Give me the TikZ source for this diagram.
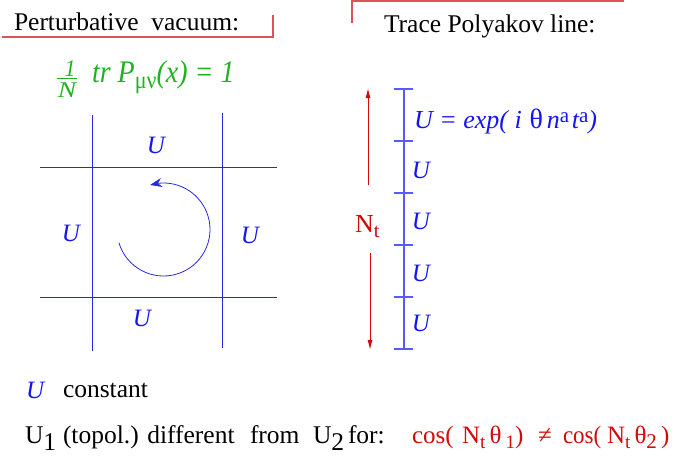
\documentclass[tikz,border=0pt]{standalone}
\usepackage{fontspec}
\setmainfont{Liberation Serif}
\usetikzlibrary{arrows.meta}
\definecolor{ublue}{RGB}{20,20,245}
\definecolor{gridblue}{RGB}{40,40,225}
\definecolor{lineblue}{RGB}{90,90,250}
\definecolor{tred}{RGB}{210,10,10}
\definecolor{hdrred}{RGB}{222,80,90}
\definecolor{tgreen}{RGB}{30,180,30}
\newcommand{\lowsub}[2][6pt]{\raisebox{-#1}{#2}}
\begin{document}
\begin{tikzpicture}[x=1pt,y=-1pt,
  every node/.style={inner sep=0pt, outer sep=0pt},
  body/.style={font=\fontsize{25.5}{30}\selectfont, anchor=base west},
  ulab/.style={font=\fontsize{25}{30}\selectfont\itshape, text=ublue},
  redtxt/.style={font=\fontsize{25}{30}\selectfont, anchor=base west, text=tred},
  gridline/.style={draw=gridblue, line width=0.9pt},
  polyline/.style={draw=lineblue, line width=1.3pt},
  hdr/.style={draw=hdrred, line width=1.1pt},
  redarrow/.style={draw=tred, line width=1pt, -{Latex[length=10pt,width=5pt]}},
  looparrow/.style={draw=gridblue, line width=0.8pt, -{Stealth[length=12pt,width=9pt]}},
  green/.style={text=tgreen, font=\fontsize{28}{32}\selectfont\itshape}
]
\useasboundingbox (0,0) rectangle (679,455);

% headers
\node[body] (pv) at (14,30) {Perturbative\ \ vacuum:};
\draw[hdr] (2,37) -- (273,37) -- (273,15);
\node[body] (tp) at (384,32) {Trace Polyakov line:};
\draw[hdr] (352,23) -- (352,1) -- (624,1);

% green formula
\node[green, font=\fontsize{22}{24}\selectfont\itshape] (fnum) at (70,68.5) {\scalebox{1}[1.08]{1}};
\node[green, font=\fontsize{22}{24}\selectfont\itshape] (fden) at (67,90) {\scalebox{1.25}[1.02]{N}};
\draw[draw=tgreen, line width=0.9pt] (57,78) -- (77,78);
\node[green, anchor=base west] (fr) at (92,82) {\scalebox{1}[1.12]{tr P\lowsub[6pt]{\fontsize{22}{24}\selectfont\upshape μν}(x) = 1}};

% plaquette grid
\draw[gridline] (92,115) -- (92,351);
\draw[gridline] (222,113) -- (222,348);
\draw[gridline] (40,167) -- (277,167);
\draw[gridline] (40,297) -- (277,297);
\node[ulab] (utop) at (156,145) {U};
\node[ulab] (uleft) at (71,233) {U};
\node[ulab] (uright) at (250,235) {U};
\node[ulab] (ubot) at (142,318) {U};
\coordinate (lc) at (163.5,229.5);
\draw[looparrow] (lc) ++(163.5:46.5) arc[start angle=163.5, end angle=-97, radius=46.5] -- (150,185);

% Polyakov line
\draw[polyline] (404,89) -- (404,349);
\foreach \yy in {89,141,193,245,297,349} \draw[polyline] (394,\yy) -- (413,\yy);
\node[ulab, anchor=base west, font=\fontsize{26}{30}\selectfont\itshape] (u0) at (414,128) {U = exp(\ i\hspace{0.3em}{\upshape\fontsize{28}{30}\selectfont θ}\hspace{0.15em}n\raisebox{6pt}{\upshape\fontsize{21}{24}\selectfont a}\hspace{0.1em}t\raisebox{6pt}{\upshape\fontsize{21}{24}\selectfont a})};
\node[ulab] (u1) at (421,170) {U};
\node[ulab] (u2) at (421,221) {U};
\node[ulab] (u3) at (421,273) {U};
\node[ulab] (u4) at (421,323) {U};

% N_t arrow
\node[redtxt, font=\fontsize{26}{30}\selectfont] (nt) at (355,232) {N\lowsub[5pt]{\fontsize{20}{22}\selectfont t}};
\coordinate (ntop) at (368,88);
\coordinate (nbot) at (370,350);
\draw[redarrow] (368,185) -- (ntop);
\draw[redarrow] (370,253) -- (nbot);

% bottom text
\node[ulab, anchor=base west] (uc) at (26,398) {U};
\node[body] (const) at (63,397) {constant};
\node[body] (u1b) at (25,443) {U\lowsub[7pt]{1}};
\node[body] (topol) at (63,443) {(topol.) different};
\node[body] (from) at (250,443) {from};
\node[body] (u2b) at (313,443) {U\lowsub[7pt]{2}};
\node[body] (for) at (348,443) {for:};
\node[redtxt] (cosa) at (412,443) {cos(};
\node[redtxt] (arga) at (462,443) {N\lowsub[5pt]{\fontsize{19}{20}\selectfont t}\,θ\,\lowsub[5pt]{\fontsize{19}{20}\selectfont 1})};
\node[redtxt] (neq) at (538,443) {≠};
\node[redtxt] (cosb) at (563,443) {\scalebox{0.92}[1]{cos(}};
\node[redtxt] (argb) at (607,443) {N\lowsub[5pt]{\fontsize{19}{20}\selectfont t}\,θ\lowsub[5pt]{\fontsize{21}{20}\selectfont 2}\,)};
\end{tikzpicture}
\end{document}
